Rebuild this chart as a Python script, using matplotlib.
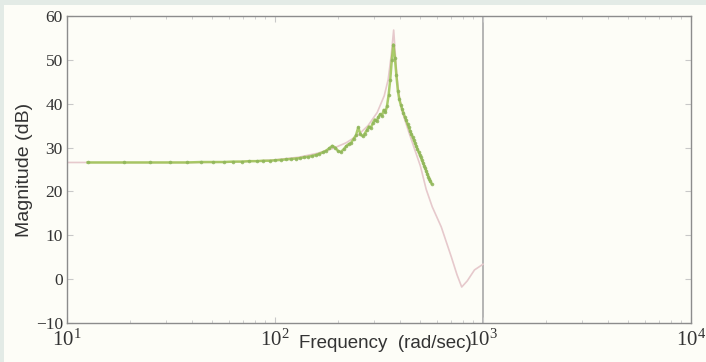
import matplotlib
matplotlib.use("Agg")
import matplotlib.pyplot as plt
from matplotlib.patches import Rectangle
import numpy as np

plt.rcParams["mathtext.fontset"] = "custom"
plt.rcParams["mathtext.rm"] = "Liberation Serif"
plt.rcParams["mathtext.it"] = "Liberation Serif:italic"

# measured response: one point per Hz, plotted in rad/sec
meas_hz = list(range(2, 91))
meas_db = [
    26.6, 26.6, 26.6, 26.6, 26.6, 26.7, 26.7, 26.7, 26.8,          # 2-10
    26.8, 26.9, 26.9, 27.0, 27.0, 27.1, 27.2, 27.3, 27.4, 27.5,    # 11-20
    27.6, 27.8, 27.9, 28.1, 28.3, 28.6, 28.9, 29.3, 29.8, 30.4,    # 21-30
    30.0, 29.2, 29.0, 29.6, 30.3, 30.8, 31.1, 32.0, 32.8, 34.6,    # 31-40
    33.0, 32.6, 33.2, 34.0, 34.8, 34.5, 35.6, 36.4, 36.0, 37.0,    # 41-50
    37.6, 37.2, 38.6, 38.0, 39.5, 42.0, 45.5, 50.0, 53.5, 50.5,    # 51-60
    46.5, 43.0, 41.0, 39.8, 38.8, 37.9, 37.0, 36.2, 35.4, 34.6,    # 61-70
    33.8, 33.1, 32.4, 31.7, 31.0, 30.3, 29.7, 29.0, 28.4, 27.8,    # 71-80
    27.1, 26.5, 25.9, 25.3, 24.6, 24.0, 23.4, 22.8, 22.3, 21.8,    # 81-90
]

# identified model (rad/sec, dB)
model_w = [10, 20, 40, 60, 80, 100, 130, 160, 190, 220, 250, 280, 310,
           335, 350, 362, 368, 372, 378, 386, 395, 410, 440, 470, 500,
           533, 570, 630, 705, 750, 790, 840, 910, 1000]
model_db = [26.6, 26.6, 26.6, 26.7, 26.9, 27.2, 27.8, 28.7, 29.8, 31.1,
            32.8, 35.0, 38.0, 41.8, 45.5, 51.0, 54.5, 56.8, 52.0, 46.0,
            42.0, 38.0, 33.5, 29.5, 25.8, 20.5, 16.5, 11.9, 5.0, 1.0,
            -1.8, -0.4, 2.1, 3.4]

xticks = [1e1, 1e2, 1e3, 1e4]
xticklabels = [r"$10^1$", r"$10^2$", r"$10^3$", r"$10^4$"]
yticks = [-10, 0, 10, 20, 30, 40, 50, 60]

fig = plt.figure(figsize=(7.06, 3.62), dpi=100, facecolor="#e3ebe6")
fig.patches.append(Rectangle((4 / 706, 0), 1, 1 - 5 / 362, transform=fig.transFigure,
                             facecolor="#fdfdf7", edgecolor="none", zorder=-1))
ax = fig.add_axes([67 / 706, 1 - 323 / 362, 624 / 706, 307 / 362])
ax.set_facecolor("#fdfdf7")

meas_w = np.array(meas_hz) * 2 * np.pi
ax.plot(model_w, model_db, color="#e6c9cc", lw=1.2, zorder=2)
ax.plot(meas_w, meas_db, color="#9cc452", lw=1.8, marker="o", ms=2.6,
        mfc="#8fb55a", mec="none", alpha=0.85, zorder=3)
ax.axvline(1000, ymin=0, ymax=1, color="#a8a8a8", lw=1.2, zorder=1)

ax.set_xscale("log")
ax.set_xlim(10, 1e4)
ax.set_ylim(-10, 60)
ax.set_xticks(xticks)
ax.set_xticklabels(xticklabels)
ax.set_yticks(yticks)
ax.tick_params(which="both", direction="in", top=True, right=True,
               color="#c8c8c8", labelcolor="#333333")
ax.tick_params(axis="y", pad=3, labelsize=12.5)
ax.tick_params(axis="x", pad=5, labelsize=15)
ax.tick_params(which="major", length=4)
ax.tick_params(which="minor", length=2)
for lab in ax.get_xticklabels() + ax.get_yticklabels():
    lab.set_fontfamily("Liberation Serif")
for s in ax.spines.values():
    s.set_color("#8c8c8c")
    s.set_linewidth(1.0)

ax.set_ylabel("Magnitude (dB)", family="Liberation Sans", fontsize=14,
              color="#333333", labelpad=2)
ax.set_xlabel("Frequency  (rad/sec)", family="Liberation Sans", fontsize=13.5,
              color="#333333")
ax.xaxis.set_label_coords(0.51, -0.04, transform=ax.transAxes)
ax.xaxis.label.set_va("top")

fig.savefig("out.png", dpi=100, facecolor=fig.get_facecolor())
